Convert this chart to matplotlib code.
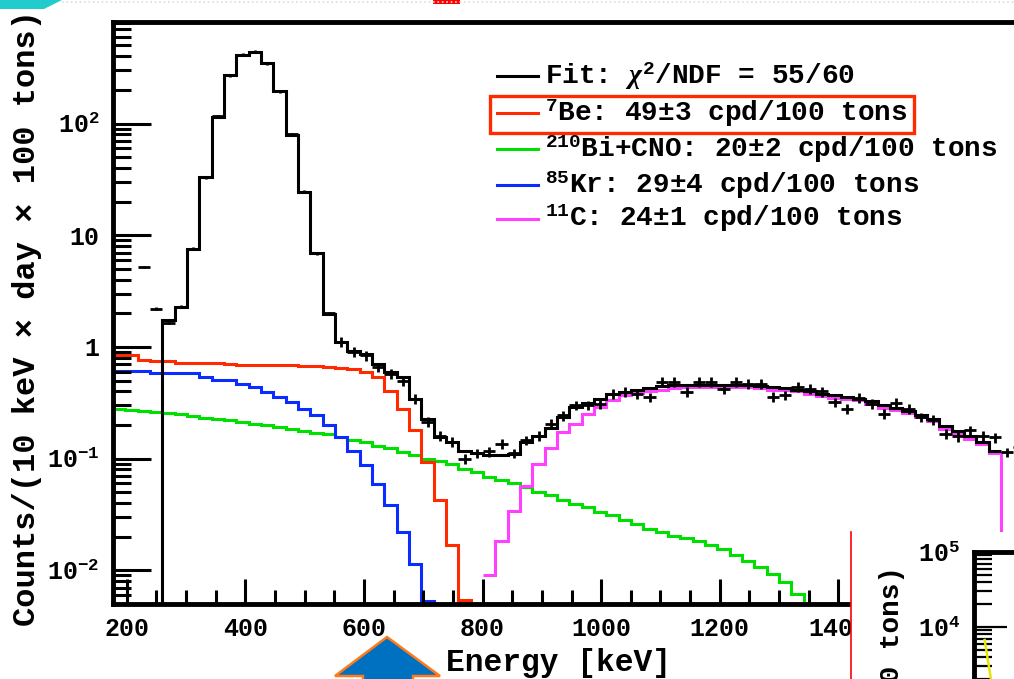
import numpy as np
import matplotlib
matplotlib.use("Agg")
from matplotlib import pyplot as plt
from matplotlib.lines import Line2D
from matplotlib.patches import Polygon, Rectangle
from matplotlib.ticker import MultipleLocator, LogLocator, NullFormatter

plt.rcParams['font.family'] = ['Liberation Mono', 'DejaVu Sans Mono']
plt.rcParams['font.weight'] = 'bold'
plt.rcParams['mathtext.fontset'] = 'custom'
plt.rcParams['mathtext.rm'] = 'Liberation Mono:bold'
plt.rcParams['mathtext.bf'] = 'Liberation Mono:bold'
plt.rcParams['mathtext.it'] = 'Liberation Serif:italic'

W, H = 1014, 679     # output size in pixels

# 1) binning (keV)
bin_lo = 176.8
bin_w = 20.8
n_bins = 74
edges = bin_lo + bin_w * np.arange(n_bins + 1)

# 2) histograms, counts/(10 keV x day x 100 t); first bin index + values
fit_first = 0
fit_vals = [0, 0, 0, 0, 1.74, 2.28, 7.47, 33.5, 115.6, 273, 413, 437, 348, 194, 79, 24.6, 6.88, 1.96,
            1.11, 0.92, 0.86, 0.71, 0.60, 0.54, 0.344, 0.228, 0.156, 0.141, 0.118,
            0.112, 0.107, 0.107, 0.11, 0.141, 0.16, 0.19, 0.235, 0.29, 0.315, 0.345, 0.38, 0.395,
            0.415, 0.43, 0.445, 0.455, 0.46,
            0.46, 0.46, 0.46, 0.46, 0.455, 0.45, 0.435, 0.425, 0.415, 0.40, 0.38, 0.37, 0.36,
            0.345, 0.325, 0.30, 0.285, 0.268, 0.248, 0.228, 0.195, 0.176, 0.158, 0.14, 0.118]

be7_first = 0
be7_vals = [0.85, 0.843, 0.77, 0.745, 0.745, 0.72, 0.72, 0.72, 0.72, 0.70, 0.695, 0.695, 0.69, 0.69,
            0.685, 0.68, 0.67, 0.66, 0.65, 0.64, 0.60, 0.54, 0.403, 0.28, 0.179, 0.093, 0.043,
            0.0167, 0.0054, 0]

kr85_first = 0
kr85_vals = [0.609, 0.609, 0.609, 0.59, 0.585, 0.585, 0.585, 0.54, 0.503, 0.503, 0.47, 0.438,
             0.395, 0.356, 0.32, 0.28, 0.244, 0.199, 0.156, 0.118, 0.087, 0.0596, 0.0381, 0.022,
             0.0114, 0.0053, 0]

bicno_first = 0
bicno_vals = [0.276, 0.27, 0.265, 0.26, 0.256, 0.25, 0.24, 0.233, 0.228, 0.22,
              0.213, 0.206, 0.2, 0.192, 0.185, 0.178, 0.17, 0.165, 0.157, 0.148,
              0.14, 0.131, 0.124, 0.114, 0.107, 0.1, 0.095,
              0.09, 0.081, 0.076, 0.0686, 0.064, 0.0605, 0.0555, 0.050, 0.047, 0.043, 0.0395,
              0.0368, 0.033, 0.031, 0.028, 0.0262, 0.0236, 0.022, 0.0205, 0.0195, 0.0182,
              0.0168, 0.0155, 0.0136, 0.0122, 0.0107, 0.0093, 0.0078, 0.0062, 0]

c11_first = 30
c11_vals = [0.009, 0.0185, 0.0343, 0.0575, 0.090, 0.125, 0.173, 0.205, 0.253, 0.29,
            0.338, 0.369, 0.387, 0.40, 0.415, 0.43, 0.435,
            0.435, 0.435, 0.435, 0.435, 0.435, 0.43, 0.41, 0.41, 0.40, 0.382, 0.361, 0.352,
            0.345, 0.333, 0.311, 0.286, 0.27, 0.256, 0.236, 0.217, 0.185, 0.167, 0.151, 0.134,
            0.112, 0]

data_first = 2
data_vals = [5.2, 2.2, 1.64, 2.3, 7.6, 33, 117, 270, 415, 440, 345, 195, 80, 24.5, 6.9, 2.0,
             1.11, 0.90, 0.84, 0.66, 0.577, 0.50, 0.345, 0.213, 0.161, 0.141, 0.10, 0.112, 0.116,
             0.136, 0.112,
             0.146, 0.16, 0.205, 0.244, 0.30, 0.30, 0.31, 0.382, 0.395, 0.38, 0.355, 0.486, 0.486,
             0.395, 0.486,
             0.486, 0.424, 0.486, 0.47, 0.465, 0.356, 0.37, 0.44, 0.42, 0.40, 0.32, 0.28, 0.35,
             0.31, 0.253, 0.315, 0.28, 0.235, 0.222, 0.167, 0.158, 0.18, 0.16, 0.155, 0.114, 0.127]
data_relerr = 0.1
peak_relerr = 0.03

legend_labels = [r'Fit: $\chi^{2}$/NDF = 55/60',
                 r'$^{7}$Be: 49±3 cpd/100 tons',
                 r'$^{210}$Bi+CNO: 20±2 cpd/100 tons',
                 r'$^{85}$Kr: 29±4 cpd/100 tons',
                 r'$^{11}$C: 24±1 cpd/100 tons']
colors = ['black', '#ff2a00', '#00e000', '#0a2cff', '#ff40ff']

x_ticks = [200, 400, 600, 800, 1000, 1200, 1400, 1600]
y_ticks = [0.01, 0.1, 1, 10, 100]
y_ticklabels = [r'$10^{-2}$', r'$10^{-1}$', '1', '10', r'$10^{2}$']
ylabel = 'Counts/(10 keV × day × 100 tons)'

# small inset (cut off in the screenshot)
inset_x = [1.7, 2.7]
inset_y = [6700, 2030]
inset_ticks = [1e4, 1e5]
inset_ticklabels = [r'$10^{4}$', r'$10^{5}$']


def fp(x, y):
    # pixel position -> figure fraction
    return (x / W, 1 - y / H)


fig = plt.figure(figsize=(W / 100, H / 100), dpi=100)
fig.patch.set_facecolor('white')

xmin, xmax = bin_lo, 1800
px_per_kev = 0.593
ax_right_px = 113 + (xmax - xmin) * px_per_kev
ax = fig.add_axes([113 / W, 1 - 604 / H, (ax_right_px - 113) / W, (604 - 21.5) / H])
ax.set_yscale('log')
ax.set_xlim(xmin, xmax)
ax.set_ylim(0.005, 820)


def draw_hist(first, vals, color):
    v = np.asarray(vals, float)
    ax.stairs(v, edges[first:first + len(v) + 1], color=color, lw=2.2, baseline=None)


draw_hist(bicno_first, bicno_vals, colors[2])
draw_hist(kr85_first, kr85_vals, colors[3])
draw_hist(be7_first, be7_vals, colors[1])
draw_hist(c11_first, c11_vals, colors[4])
draw_hist(fit_first, fit_vals, colors[0])

dv = np.asarray(data_vals, float)
centers = (edges[:-1] + edges[1:])[data_first:data_first + len(dv)] / 2
rel = np.where(dv > 1.5, peak_relerr, data_relerr)
ax.errorbar(centers, dv, xerr=bin_w / 2, yerr=dv * rel, fmt='none', ecolor='black',
            elinewidth=2.0, capsize=0)

ax.set_xticks(x_ticks)
ax.set_xticklabels([str(t) for t in x_ticks])
ax.xaxis.set_minor_locator(MultipleLocator(50))
ax.set_yticks(y_ticks)
ax.set_yticklabels(y_ticklabels)
ax.yaxis.set_minor_locator(LogLocator(base=10, subs=np.arange(2, 10)))
ax.yaxis.set_minor_formatter(NullFormatter())
ax.tick_params(axis='x', which='major', direction='in', length=18, width=2.2, labelsize=18, pad=9)
ax.tick_params(axis='x', which='minor', direction='in', length=10, width=2.2)
ax.tick_params(axis='y', which='major', direction='in', length=27, width=2.2, labelsize=18, pad=10)
ax.tick_params(axis='y', which='minor', direction='in', length=13, width=2.2)
for s in ax.spines.values():
    s.set_linewidth(3.5)

fig.text(*fp(27, 318), ylabel, rotation=90, ha='center', va='center', fontsize=23)
fig.text(*fp(558, 663), 'Energy [keV]', ha='center', va='center', fontsize=22.5)

# legend
row_y = [75.7, 112.7, 149.3, 185.3, 218.5]
for label, color, y in zip(legend_labels, colors, row_y):
    fig.add_artist(Line2D([497 / W, 538 / W], [1 - y / H] * 2, color=color, lw=2.2,
                          transform=fig.transFigure))
    fig.text(*fp(545, y + 8), label, ha='left', va='baseline', fontsize=20)
fig.patches.append(Rectangle(fp(490, 133), 424 / W, 37 / H, fill=False, ec='#ff2a00', lw=2.4,
                             transform=fig.transFigure, figure=fig))

# slide decorations
fig.patches.append(Polygon([fp(0, 0), fp(62, 0), fp(44, 9), fp(0, 9)], closed=True, fc='#22cccc',
                           ec='none', transform=fig.transFigure, figure=fig))
fig.patches.append(Rectangle(fp(433, 4), 27 / W, 4 / H, fc='red', ec='none',
                             transform=fig.transFigure, figure=fig))
fig.add_artist(Line2D([62 / W, 1], [1 - 2 / H] * 2, color='#dddddd', lw=1.2, ls=':',
                      transform=fig.transFigure))
arrow_pts = [fp(387, 637), fp(440, 676), fp(413, 676), fp(413, 700), fp(363, 700),
             fp(363, 676), fp(335, 676)]
fig.patches.append(Polygon(arrow_pts, closed=True, fc='#0070c0', ec='#ff7a1a', lw=1.8,
                           transform=fig.transFigure, figure=fig))

# cut-off inset in the lower right corner
panel = fig.add_axes([851 / W, 0, 163 / W, 147 / H], zorder=1.5)
panel.set_facecolor('white')
panel.set_xticks([])
panel.set_yticks([])
for side, s in panel.spines.items():
    s.set_visible(side == 'left')
panel.spines['left'].set_color('red')
panel.spines['left'].set_linewidth(1.2)

inset = fig.add_axes([974 / W, (679 - 747) / H, (1600 - 974) / W, (747 - 552) / H], zorder=1.6)
inset.set_yscale('log')
inset.set_xlim(0, 100)
inset.set_ylim(10 ** 2.4, 1e5)
inset.plot(inset_x, inset_y, color='#e6e600', lw=1.8)
inset.set_xticks([])
inset.set_yticks(inset_ticks)
inset.set_yticklabels(inset_ticklabels)
inset.yaxis.set_minor_locator(LogLocator(base=10, subs=np.arange(2, 10)))
inset.yaxis.set_minor_formatter(NullFormatter())
inset.tick_params(axis='y', which='major', direction='in', length=24, width=1.6, labelsize=18, pad=10)
inset.tick_params(axis='y', which='minor', direction='in', length=13, width=1.6)
for s in inset.spines.values():
    s.set_linewidth(3.5)
fig.text(*fp(892, 566), ylabel, rotation=90, rotation_mode='anchor', ha='right', va='center',
         fontsize=20, zorder=5)

fig.savefig('out.png', dpi=100)
